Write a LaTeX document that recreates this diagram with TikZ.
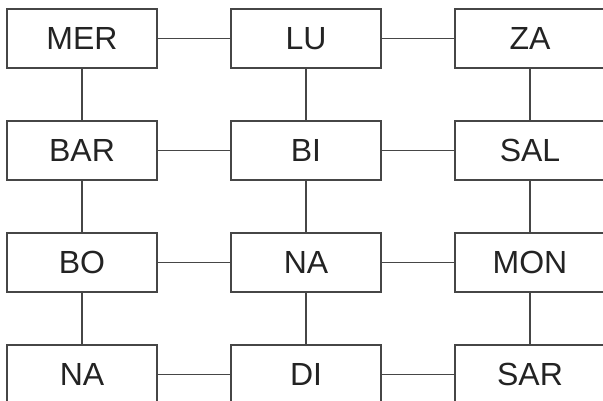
\documentclass[tikz,border=0pt]{standalone}
\usepackage{fontspec}
\setmainfont{Liberation Sans}
\usepackage{tikz}
\usetikzlibrary{positioning}
\definecolor{linegray}{RGB}{70, 70, 70}
\definecolor{textdark}{RGB}{35, 35, 35}

\begin{document}
\begin{tikzpicture}[x=1pt, y=-1pt,
  cell/.style={draw=linegray, line width=1.1pt, minimum width=150pt, minimum height=59pt,
               inner sep=0pt, text=textdark, font=\fontsize{32}{38}\selectfont},
  link/.style={draw=linegray, line width=1.1pt},
]
\useasboundingbox (0, 0) rectangle (603, 401);
\clip (0, 0) rectangle (603, 401);

% Row 1
\node[cell] (mer) at (82, 38.5) {MER};
\node[cell] (lu)  at (306, 38.5) {LU};
\node[cell] (za)  at (530, 38.5) {ZA};

% Row 2
\node[cell] (bar) at (82, 150.5) {BAR};
\node[cell] (bi)  at (306, 150.5) {BI};
\node[cell] (sal) at (530, 150.5) {SAL};

% Row 3
\node[cell] (bo)  at (82, 262.5) {BO};
\node[cell] (na)  at (306, 262.5) {NA};
\node[cell] (mon) at (530, 262.5) {MON};

% Row 4
\node[cell] (nab) at (82, 374.5) {NA};
\node[cell] (di)  at (306, 374.5) {DI};
\node[cell] (sar) at (530, 374.5) {SAR};

% Horizontal links
\draw[link] (mer) -- (lu);
\draw[link] (lu) -- (za);
\draw[link] (bar) -- (bi);
\draw[link] (bi) -- (sal);
\draw[link] (bo) -- (na);
\draw[link] (na) -- (mon);
\draw[link] (nab) -- (di);
\draw[link] (di) -- (sar);

% Vertical links
\draw[link] (mer) -- (bar);
\draw[link] (bar) -- (bo);
\draw[link] (bo) -- (nab);
\draw[link] (lu) -- (bi);
\draw[link] (bi) -- (na);
\draw[link] (na) -- (di);
\draw[link] (za) -- (sal);
\draw[link] (sal) -- (mon);
\draw[link] (mon) -- (sar);
\end{tikzpicture}
\end{document}
